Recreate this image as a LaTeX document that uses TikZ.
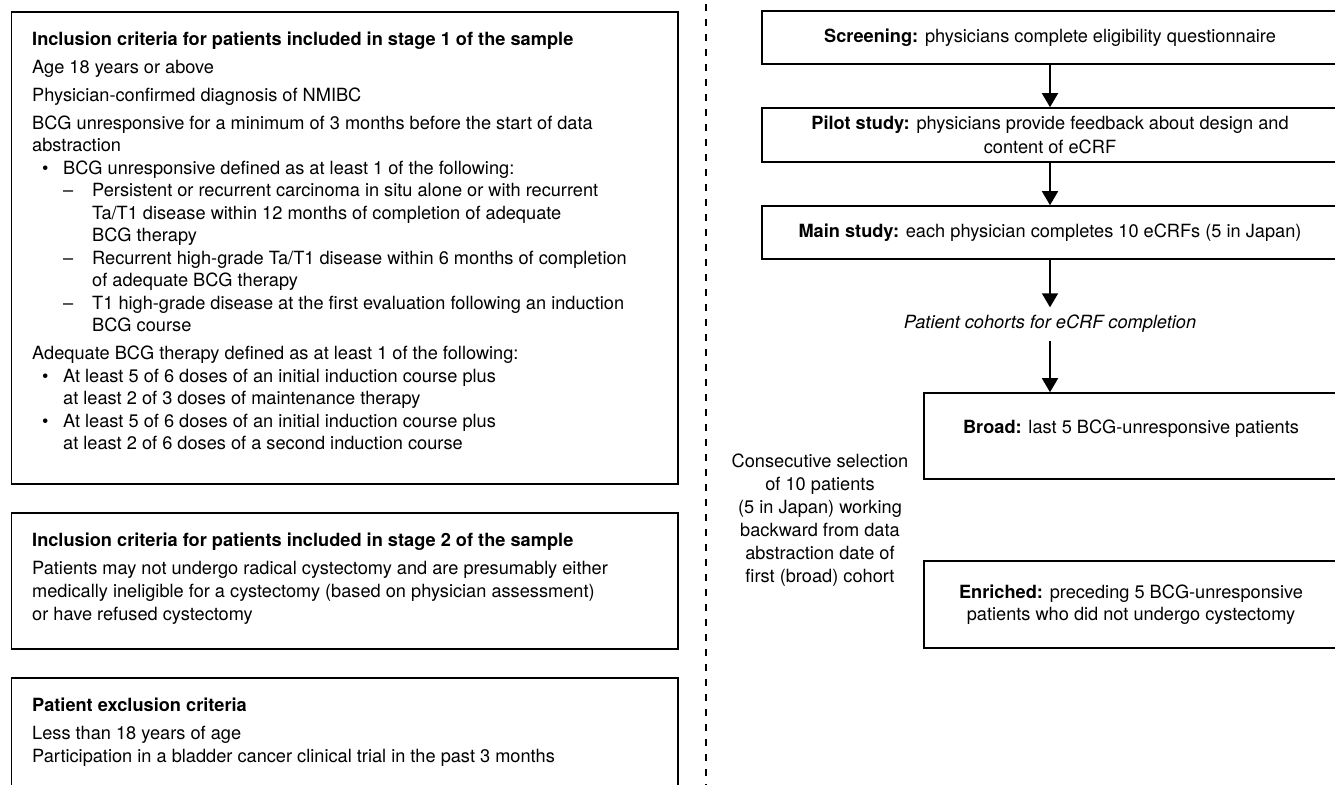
\documentclass[tikz,border=0pt]{standalone}
\usepackage{fontspec}
\setmainfont{TeX Gyre Heros}
\usetikzlibrary{arrows.meta}
\newcommand\myfs{\fontsize{18.2}{22.5}\selectfont}
\begin{document}
\begin{tikzpicture}[x=1pt,y=-1pt,
  boxx/.style={draw, line width=1.6pt, inner sep=0pt},
  flowbox/.style={boxx, minimum width=576pt, align=center, font=\myfs},
  cohortbox/.style={boxx, minimum width=414pt, align=center, font=\myfs},
  ln/.style={anchor=base west, inner sep=0pt, font=\myfs},
  arr/.style={line width=1.6pt, -{Triangle[width=16pt,length=14pt]}},
  divider/.style={line width=2pt, dash pattern=on 7pt off 8pt}]
\useasboundingbox (0,0) rectangle (1335,784);
\clip (0,0) rectangle (1335,784);
\fill[white] (0,0) rectangle (1335,784);

% ---------- left column boxes ----------
\node[boxx, minimum width=666.3pt, minimum height=472pt, anchor=north west] (b1) at (10.7,11) {};
\node[boxx, minimum width=666.3pt, minimum height=136pt, anchor=north west] (b2) at (10.7,512) {};
\node[boxx, minimum width=666.3pt, minimum height=130pt, anchor=north west] (b3) at (10.7,677) {};

% box 1 text
\node[ln] (a1) at (32,45.5) {\textbf{Inclusion criteria for patients included in stage 1 of the sample}};
\node[ln] (a2) at (32,73.5) {Age 18 years or above};
\node[ln] (a3) at (32,101) {Physician-confirmed diagnosis of NMIBC};
\node[ln] (a4) at (32,129) {BCG unresponsive for a minimum of 3 months before the start of data};
\node[ln] (a5) at (32,151.5) {abstraction};
\node[ln] (a6b) at (42,174) {•};
\node[ln] (a6) at (63,174) {BCG unresponsive defined as at least 1 of the following:};
\node[ln] (a7d) at (63,196.5) {–};
\node[ln] (a7) at (92,196.5) {Persistent or recurrent carcinoma in situ alone or with recurrent};
\node[ln] (a8) at (92,219) {Ta/T1 disease within 12 months of completion of adequate};
\node[ln] (a9) at (92,241.5) {BCG therapy};
\node[ln] (a10d) at (63,264) {–};
\node[ln] (a10) at (92,264) {Recurrent high-grade Ta/T1 disease within 6 months of completion};
\node[ln] (a11) at (92,286.5) {of adequate BCG therapy};
\node[ln] (a12d) at (63,309) {–};
\node[ln] (a12) at (92,309) {T1 high-grade disease at the first evaluation following an induction};
\node[ln] (a13) at (92,331.5) {BCG course};
\node[ln] (a14) at (32,359.5) {Adequate BCG therapy defined as at least 1 of the following:};
\node[ln] (a15b) at (42,382) {•};
\node[ln] (a15) at (63,382) {At least 5 of 6 doses of an initial induction course plus};
\node[ln] (a16) at (63,404.5) {at least 2 of 3 doses of maintenance therapy};
\node[ln] (a17b) at (42,427) {•};
\node[ln] (a17) at (63,427) {At least 5 of 6 doses of an initial induction course plus};
\node[ln] (a18) at (63,449.5) {at least 2 of 6 doses of a second induction course};

% box 2 text
\node[ln] (c1) at (32,546.5) {\textbf{Inclusion criteria for patients included in stage 2 of the sample}};
\node[ln] (c2) at (32,574.5) {Patients may not undergo radical cystectomy and are presumably either};
\node[ln] (c3) at (32,597.5) {medically ineligible for a cystectomy (based on physician assessment)};
\node[ln] (c4) at (32,620.5) {or have refused cystectomy};

% box 3 text
\node[ln] (e1) at (32,711) {\textbf{Patient exclusion criteria}};
\node[ln] (e2) at (32,739) {Less than 18 years of age};
\node[ln] (e3) at (32,762) {Participation in a bladder cancer clinical trial in the past 3 months};

% ---------- divider ----------
\coordinate (dtop) at (706,4);
\coordinate (dbot) at (706,790);
\draw[divider] (dtop) -- (dbot);

% ---------- right column flow ----------
\node[flowbox, minimum height=53pt] (screen) at (1050,37.5)
  {\textbf{Screening:} physicians complete eligibility questionnaire};
\node[flowbox, minimum height=54pt] (pilot) at (1050,135)
  {\textbf{Pilot study:} physicians provide feedback about design and\\[0.9pt]content of eCRF};
\node[flowbox, minimum height=53pt] (main) at (1050,232.5)
  {\textbf{Main study:} each physician completes 10 eCRFs (5 in Japan)};
\node[inner sep=0pt, minimum height=33pt, font=\myfs\itshape] (cohort) at (1050,324)
  {Patient cohorts for eCRF completion};
\node[cohortbox, minimum height=86pt] (broad) at (1131,436)
  {\raisebox{7pt}[\height][\depth]{\textbf{Broad:} last 5 BCG-unresponsive patients}};
\node[cohortbox, minimum height=87pt] (enriched) at (1131,604.5)
  {\textbf{Enriched:} preceding 5 BCG-unresponsive\\patients who did not undergo cystectomy};
\node[inner sep=0pt, align=center, font=\fontsize{18.2}{23}\selectfont] (consec) at (820,520)
  {Consecutive selection\\of 10 patients\\(5 in Japan) working\\backward from data\\abstraction date of\\first (broad) cohort};

\draw[arr] (screen) -- (pilot);
\draw[arr] (pilot) -- (main);
\draw[arr] (main) -- (cohort);
\draw[arr] (cohort) -- (cohort |- broad.north);
\end{tikzpicture}
\end{document}
